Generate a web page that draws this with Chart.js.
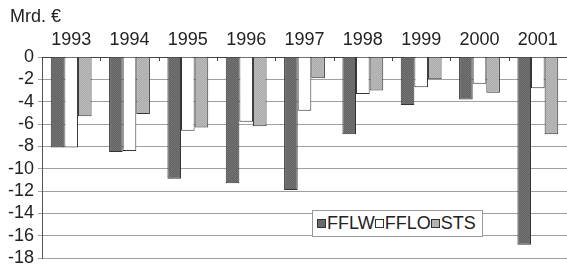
<!DOCTYPE html>
<html>
<head>
<meta charset="utf-8">
<script src="https://cdn.jsdelivr.net/npm/chart.js@4"></script>
<style>
  body { margin: 0; background: #fff; }
  #wrap { position: relative; width: 567px; height: 273px; font-family: "Liberation Sans", Arial, sans-serif; color: #222; }
  #unit { position: absolute; left: 10px; top: 6px; font-size: 18px; }
  #legend { position: absolute; left: 312px; top: 210px; width: 165px; height: 25px; border: 1px solid #999; background: #fff;
            font-size: 18px; display: flex; align-items: center; padding-left: 4px; box-sizing: content-box; }
  #legend i { display: inline-block; width: 7px; height: 7px; border: 1px solid #333; margin-right: 1px; }
</style>
</head>
<body>
<div id="wrap">
  <canvas id="c" width="567" height="273"></canvas>
  <div id="unit">Mrd. €</div>
  <div id="legend"></div>
</div>
<script>
// chart values (Mrd. €)
const years = ['1993', '1994', '1995', '1996', '1997', '1998', '1999', '2000', '2001'];
const fflw = [-8.1, -8.5, -10.9, -11.3, -11.9, -6.9, -4.3, -3.8, -16.8];
const fflo = [-8.1, -8.4, -6.6, -5.8, -4.8, -3.3, -2.7, -2.4, -2.8];
const sts = [-5.3, -5.1, -6.3, -6.2, -1.9, -3.0, -2.0, -3.2, -6.9];
const seriesNames = ['FFLW', 'FFLO', 'STS'];
const yMin = -18, yMax = 0, yStep = 2;

// small dotted texture like the printed original
function texture(a, b) {
    const p = document.createElement('canvas');
    p.width = 2; p.height = 2;
    const g = p.getContext('2d');
    g.fillStyle = a; g.fillRect(0, 0, 2, 2);
    g.fillStyle = b; g.fillRect(0, 0, 1, 1); g.fillRect(1, 1, 1, 1);
    return g.createPattern(p, 'repeat');
}
const ctx = document.getElementById('c').getContext('2d');
const fills = [texture('#646464', '#727272'), '#ffffff', texture('#adadad', '#b9b9b9')];
const swatch = ['#6a6a6a', '#ffffff', '#b3b3b3'];

// legend
const leg = document.getElementById('legend');
seriesNames.forEach((n, i) => {
    const m = document.createElement('i');
    m.style.background = swatch[i];
    leg.appendChild(m);
    leg.appendChild(document.createTextNode(n));
});

// inward tick marks on the top (category) axis
const topTicks = {
    id: 'topTicks',
    afterDatasetsDraw(chart) {
        const x = chart.scales.x, a = chart.chartArea, c = chart.ctx;
        c.save();
        c.strokeStyle = '#444';
        c.lineWidth = 1;
        for (let i = 0; i <= years.length; i++) {
            const px = Math.round(x.getPixelForValue(i - 0.5)) + 0.5;
            c.beginPath();
            c.moveTo(px, a.top);
            c.lineTo(px, a.top + 4);
            c.stroke();
        }
        c.restore();
    }
};

const font = { family: '"Liberation Sans", Arial, sans-serif', size: 18 };

new Chart(ctx, {
    type: 'bar',
    data: {
        labels: years,
        datasets: [fflw, fflo, sts].map((d, i) => ({
            label: seriesNames[i],
            data: d,
            backgroundColor: fills[i],
            borderColor: '#333',
            borderWidth: 1,
            categoryPercentage: 0.7,
            barPercentage: 1.0,
        })),
    },
    options: {
        responsive: false,
        animation: false,
        layout: { autoPadding: false, padding: { top: 0, right: 0, bottom: 3, left: 0 } },
        plugins: { legend: { display: false }, tooltip: { enabled: false } },
        scales: {
            x: {
                position: 'top',
                grid: { drawOnChartArea: false, drawTicks: false },
                border: { color: '#444' },
                ticks: { font, color: '#222', padding: 6, maxRotation: 0, autoSkip: false },
                afterFit: (s) => { s.height = 57; },
            },
            y: {
                min: yMin,
                max: yMax,
                grid: { color: '#a0a0a0', tickLength: 4 },
                border: { color: '#555' },
                ticks: { stepSize: yStep, font, color: '#222', padding: 4, autoSkip: false },
                afterFit: (s) => { s.width = 42; },
            },
        },
    },
    plugins: [topTicks],
});
</script>
</body>
</html>
